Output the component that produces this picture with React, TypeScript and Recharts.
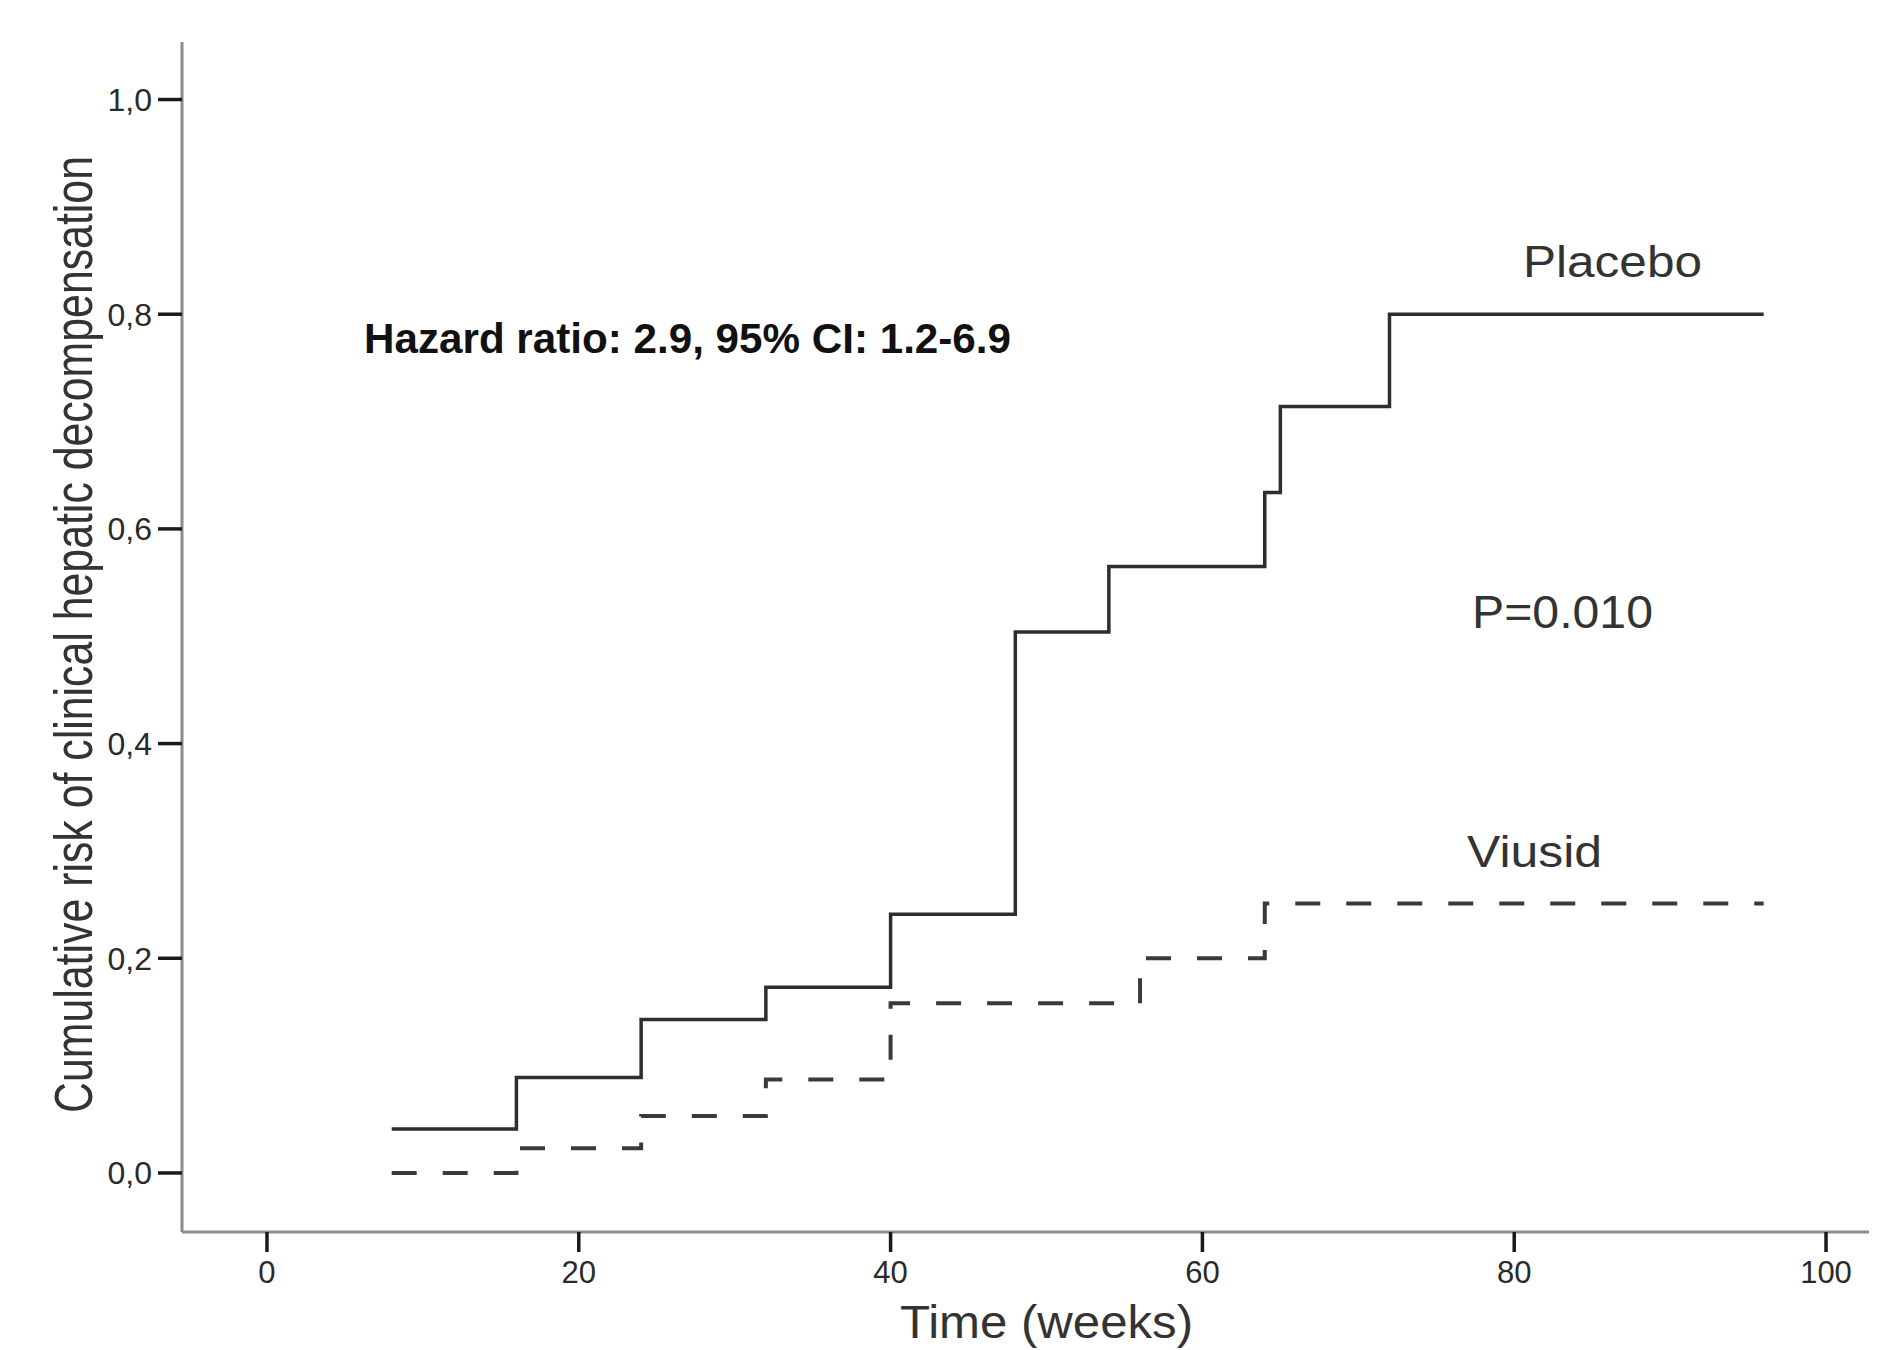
import { LineChart, Line, XAxis, YAxis } from 'recharts';

// weeks / cumulative risk
const placeboWeeks = [8, 16, 24, 32, 40, 48, 54, 64, 65, 72, 96];
const placeboRisk = [0.041, 0.089, 0.143, 0.173, 0.241, 0.504, 0.565, 0.634, 0.714, 0.8, 0.8];
const viusidWeeks = [8, 16, 24, 32, 40, 56, 64, 96];
const viusidRisk = [0, 0.023, 0.053, 0.087, 0.158, 0.2, 0.251, 0.251];

const xTicks = [0, 20, 40, 60, 80, 100];
const yTicks = [0, 0.2, 0.4, 0.6, 0.8, 1.0];

const placeboData = placeboWeeks.map((t, i) => ({ t, risk: placeboRisk[i] }));
const viusidData = viusidWeeks.map((t, i) => ({ t, risk: viusidRisk[i] }));

const W = 1869;
const H = 1342;
const font = '"Liberation Sans", Arial, sans-serif';

export default function App() {
  return (
    <div style={{ position: 'relative', width: W, height: H, fontFamily: font }}>
      <LineChart
        width={W}
        height={H}
        margin={{ top: 34, right: 0, left: 74, bottom: 58 }}
      >
        <XAxis
          type="number"
          dataKey="t"
          domain={[-5.45, 103.27]}
          ticks={xTicks}
          allowDataOverflow
          height={60}
          axisLine={{ stroke: '#8c8c8c', strokeWidth: 3 }}
          tickLine={{ stroke: '#1a1a1a', strokeWidth: 3.5 }}
          tickSize={20}
          tickMargin={9}
          tick={{ fill: '#2a2a2a', fontSize: 31, fontFamily: font }}
        />
        <YAxis
          type="number"
          domain={[-0.055, 1.0536]}
          ticks={yTicks}
          allowDataOverflow
          width={100}
          axisLine={{ stroke: '#8c8c8c', strokeWidth: 3 }}
          tickLine={{ stroke: '#1a1a1a', strokeWidth: 3.5 }}
          tickSize={24}
          tickMargin={6}
          tick={{ fill: '#2a2a2a', fontSize: 32, fontFamily: font }}
          tickFormatter={(v: number) => v.toFixed(1).replace('.', ',')}
        />
        <Line
          data={placeboData}
          dataKey="risk"
          type="stepAfter"
          stroke="#2e2e2e"
          strokeWidth={3.5}
          dot={false}
          isAnimationActive={false}
        />
        <Line
          data={viusidData}
          dataKey="risk"
          type="stepAfter"
          stroke="#3a3a3a"
          strokeWidth={4}
          strokeDasharray="25 26"
          dot={false}
          isAnimationActive={false}
        />
      </LineChart>
      <svg
        width={W}
        height={H}
        style={{ position: 'absolute', left: 0, top: 0, pointerEvents: 'none' }}
        fontFamily={font}
      >
        <text x={356} y={345} fontSize={42} fontWeight="bold" fill="#111" textLength={647} lengthAdjust="spacingAndGlyphs">
          Hazard ratio: 2.9, 95% CI: 1.2-6.9
        </text>
        <text x={1515} y={269} fontSize={44} fill="#333" textLength={179} lengthAdjust="spacingAndGlyphs">
          Placebo
        </text>
        <text x={1464} y={620} fontSize={46} fill="#333" textLength={181} lengthAdjust="spacingAndGlyphs">
          P=0.010
        </text>
        <text x={1459} y={859} fontSize={44} fill="#333" textLength={135} lengthAdjust="spacingAndGlyphs">
          Viusid
        </text>
        <text x={1038.5} y={1330} fontSize={46} fill="#333" textAnchor="middle" textLength={293} lengthAdjust="spacingAndGlyphs">
          Time (weeks)
        </text>
        <text
          x={84}
          y={626.5}
          fontSize={54}
          fill="#333"
          textAnchor="middle"
          transform="rotate(-90, 84, 626.5)"
          textLength={957}
          lengthAdjust="spacingAndGlyphs"
        >
          Cumulative risk of clinical hepatic decompensation
        </text>
      </svg>
    </div>
  );
}
